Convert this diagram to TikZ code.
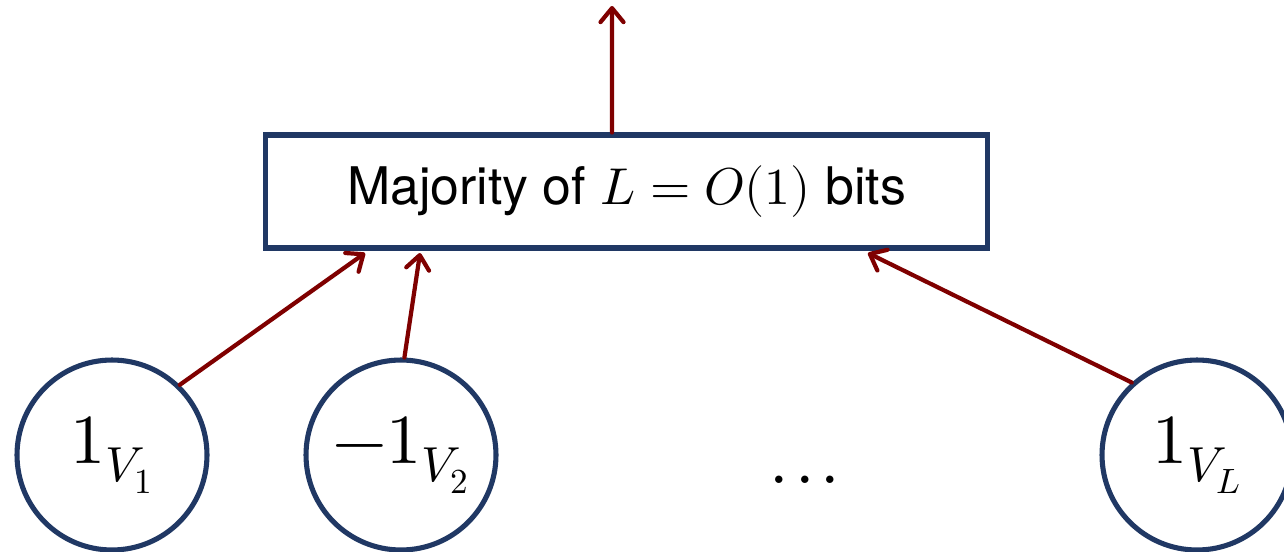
\documentclass[tikz,border=0pt]{standalone}
\usepackage{fontspec}
\usepackage{unicode-math}
\setmainfont{TeX Gyre Heros}
\setmathfont{Latin Modern Math}
\usetikzlibrary{arrows.meta,calc}
\definecolor{navy}{HTML}{203864}
\definecolor{dred}{HTML}{7F0000}
\begin{document}
\begin{tikzpicture}[x=0.02cm,y=-0.02cm,
  boxst/.style={draw=navy,line width=2.9pt,minimum width=14.46cm,minimum height=2.26cm,inner sep=0pt},
  circst/.style={draw=navy,circle,line width=2.9pt,minimum size=3.8cm,inner sep=0pt},
  lbl/.style={font=\fontsize{40}{48}\selectfont},
  arr/.style={draw=dred,line width=2.4pt,line cap=round,-{Straight Barb[width=0.46cm,length=0.28cm,line cap=round,round]}}]
\useasboundingbox (0,0) rectangle (1284,551);
\node[boxst,font=\fontsize{29.5}{34}\selectfont] (b) at (626.5,191.5) {Majority of $L=O(1)$ bits};
\node[circst,lbl] (c1) at (112,455) {$1_{V_1}$};
\node[circst,lbl] (c2) at (401,455) {$-1_{V_2}$};
\node[circst,lbl] (cL) at (1197,455) {$1_{V_L}$};
\node[lbl,anchor=base] (dots) at (805,483) {$.\mkern1.5mu.\mkern1.5mu.$};
\coordinate (top) at (612,6);
\draw[arr] (c1.46) -- ([xshift=-5.23cm,yshift=-0.05cm]b.south);
\draw[arr] (c2.88) -- ([xshift=-4.13cm,yshift=-0.05cm]b.south);
\draw[arr] (cL.132) -- ([xshift=4.83cm,yshift=-0.05cm]b.south);
\draw[arr] ([xshift=-0.29cm]b.north) -- (top);
\end{tikzpicture}
\end{document}
